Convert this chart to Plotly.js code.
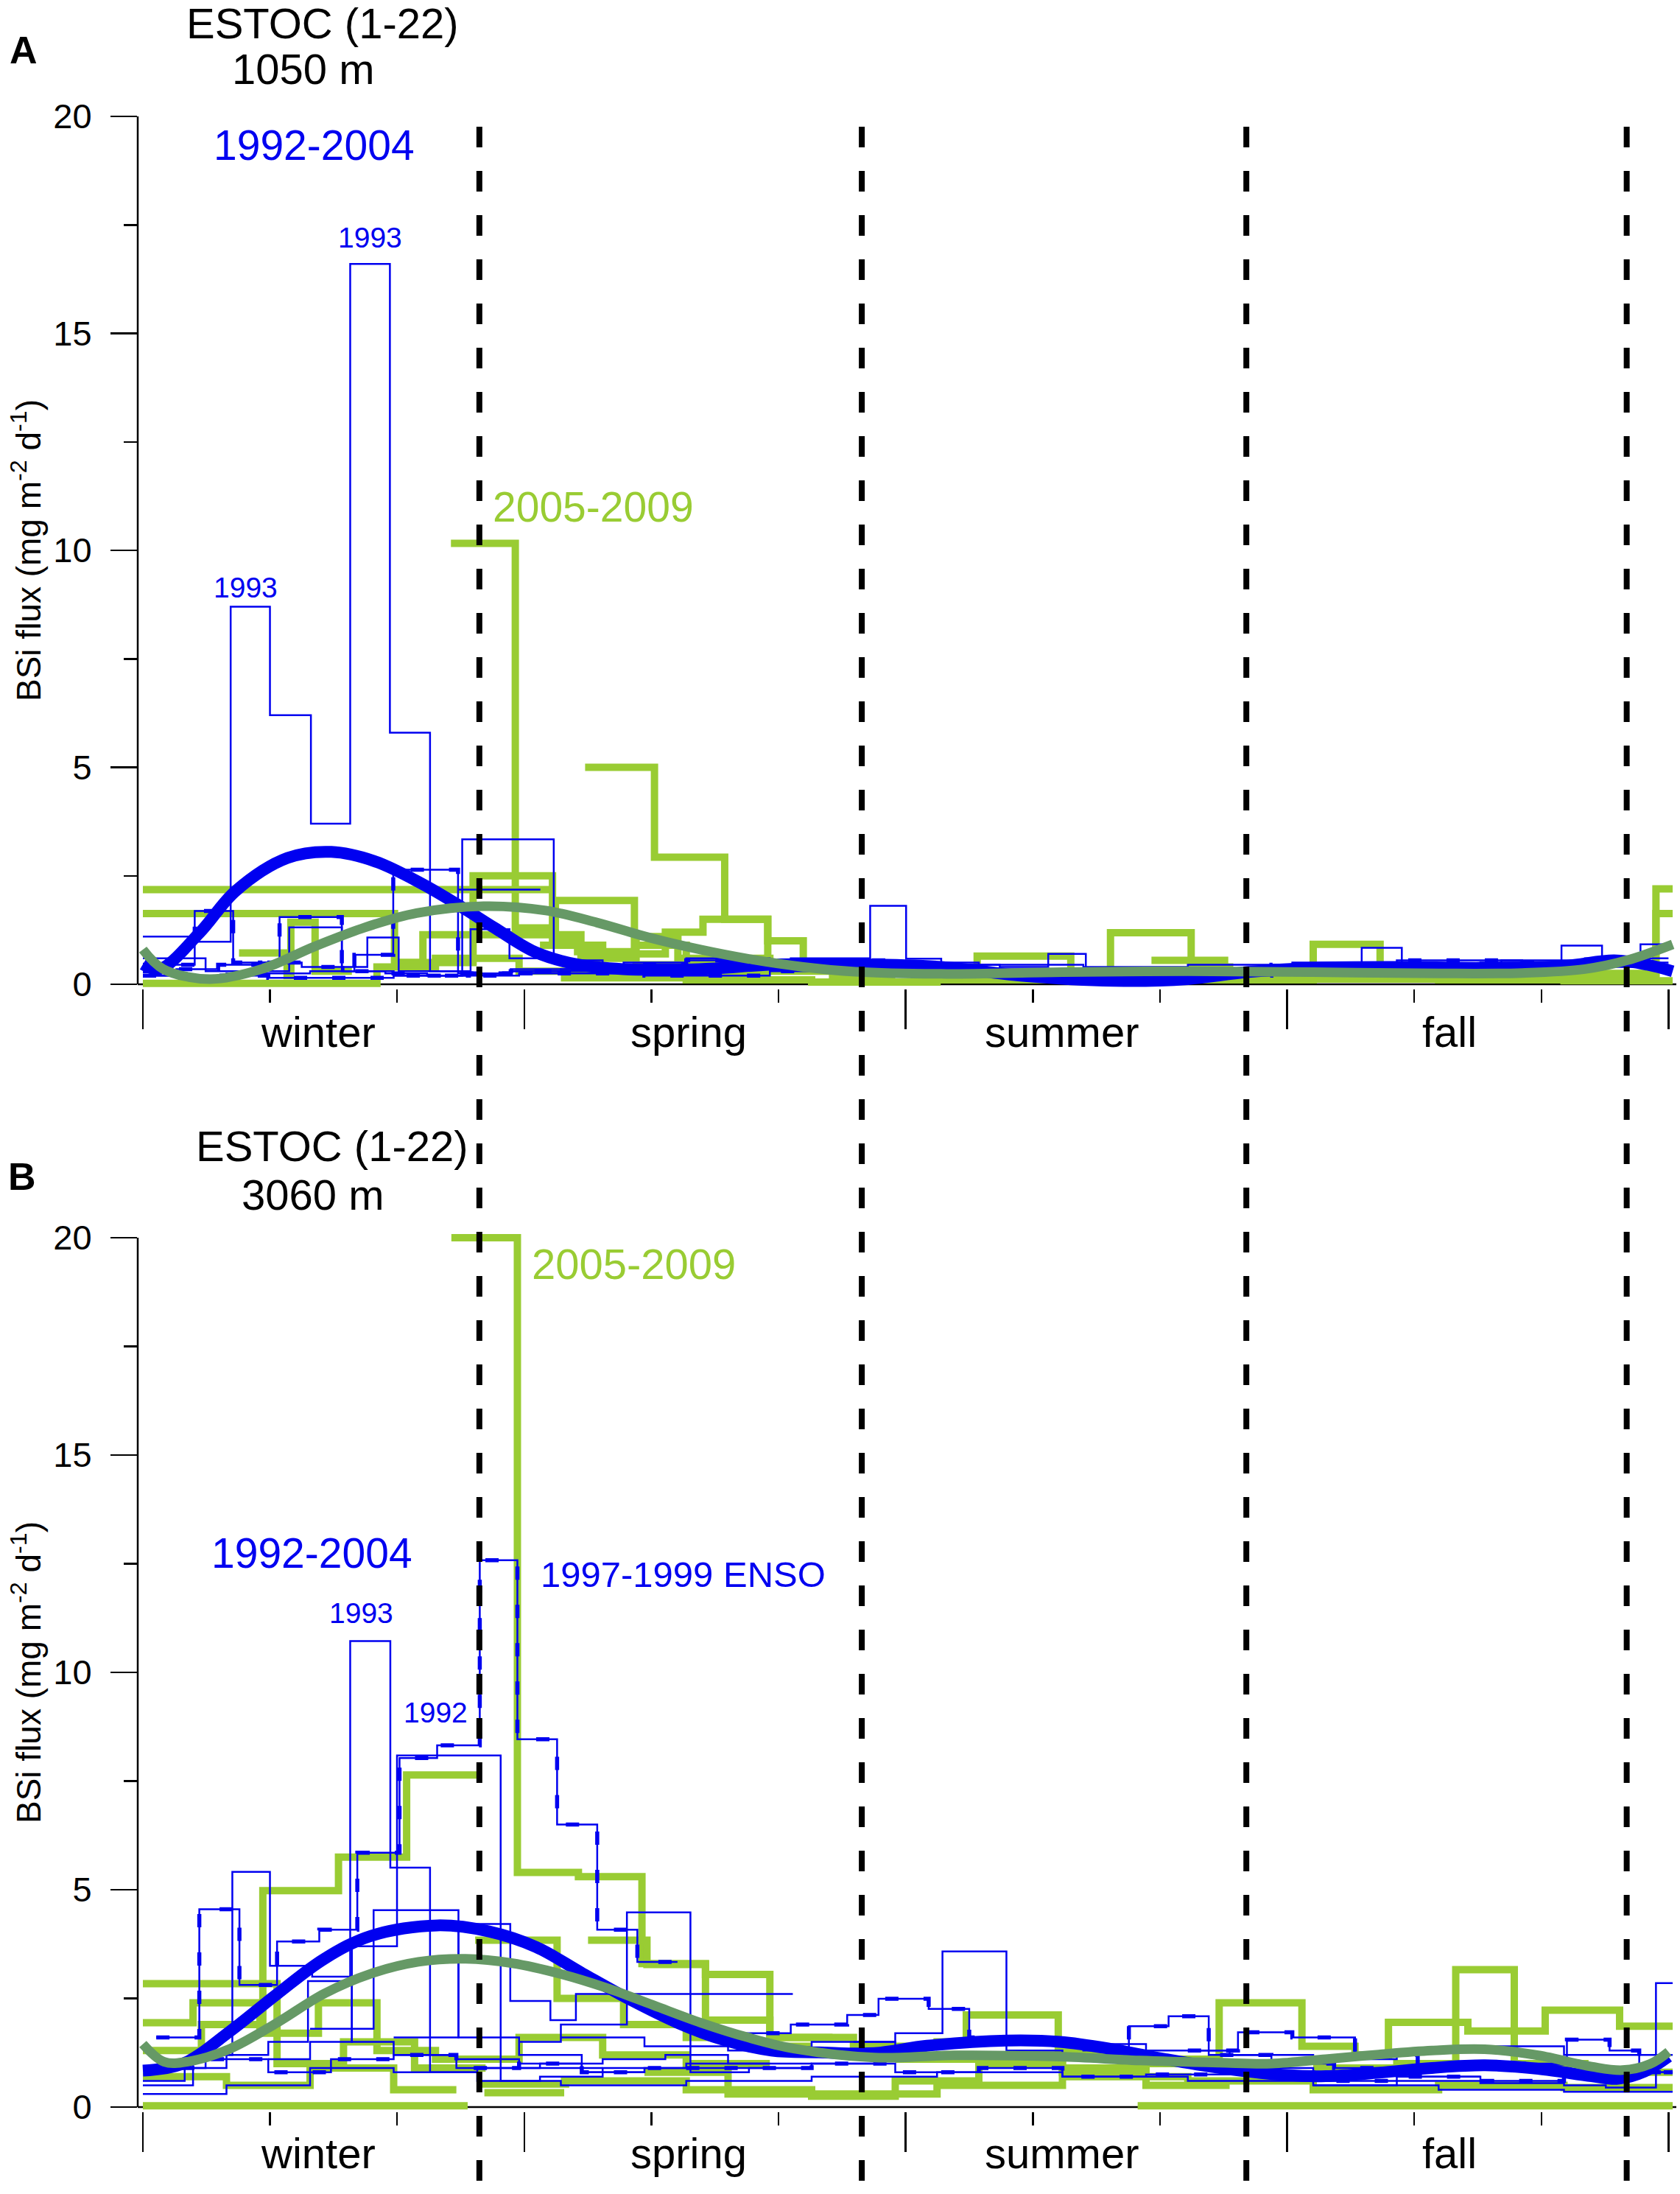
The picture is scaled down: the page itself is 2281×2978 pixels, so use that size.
<!DOCTYPE html>
<html>
<head>
<meta charset="utf-8">
<script src="https://cdn.plot.ly/plotly-3.0.1.min.js"></script>
<style>
body { margin: 0; background: #fff; }
#chart { width: 2281px; height: 2978px; }
</style>
</head>
<body>
<div id="chart"></div>
<script>
// BSi flux at ESTOC, day of year vs mg m-2 d-1
// step series: *_days are cup boundaries (one more than *_flux)

// ---- panel A, 1050 m, 1992-2004 (blue) ----
var A_b1_days = [0, 12.2, 21, 30.4, 40.2, 49.6, 59.1, 68.7, 78, 88, 100, 115, 130, 150, 170, 190];
var A_b1_flux = [1.1, 0.98, 8.7, 6.2, 3.7, 16.6, 5.8, 0.3, 0.25, 0.35, 0.3, 0.4, 0.45, 0.4, 0.35];
var A_b2_days = [0, 12.4, 21.6, 32.7, 47.6, 50.6, 59.9, 75.4, 88, 100, 115, 130, 145, 160, 175, 190];
var A_b2_flux = [0.45, 1.69, 0.5, 1.55, 0.3, 0.68, 2.64, 0.25, 0.3, 0.35, 0.45, 0.55, 0.5, 0.45, 0.5];
var A_b3_days = [0, 20, 40, 60, 76.4, 98.3, 110, 125, 140, 160, 180, 200, 220, 240, 260];
var A_b3_flux = [0.2, 0.25, 0.3, 0.2, 3.34, 0.55, 0.4, 0.3, 0.35, 0.5, 0.45, 0.35, 0.3, 0.35];
var A_b4_days = [75.4, 95.1];
var A_b4_flux = [2.18];
var A_b5_days = [0, 15, 35, 47.6, 53.7, 61.2, 78.4, 87.7, 100, 115, 130, 150, 175, 200, 225, 250, 275, 300, 325, 345, 365];
var A_b5_flux = [0.6, 0.3, 1.31, 0.4, 1.08, 0.3, 1.27, 0.6, 0.45, 0.5, 0.6, 0.55, 0.5, 0.45, 0.4, 0.45, 0.5, 0.45, 0.55, 0.6];
var A_b6_days = [140, 155, 174, 182.6, 191, 205, 216.6, 225.6, 240, 260];
var A_b6_flux = [0.55, 0.6, 1.81, 0.59, 0.45, 0.4, 0.7, 0.3, 0.25];
var A_b7_days = [240, 260, 280, 291.6, 301.2, 315, 330, 345, 365];
var A_b7_flux = [0.3, 0.35, 0.4, 0.84, 0.45, 0.4, 0.5, 0.45];
var A_b8_days = [260, 280, 300, 320, 339.4, 349.1, 358.3, 365.6];
var A_b8_flux = [0.35, 0.4, 0.45, 0.5, 0.89, 0.6, 0.92];
var A_b9_days = [0, 30, 60, 90, 120, 150, 180, 210, 240, 270, 300, 330, 365];
var A_b9_flux = [0.2, 0.15, 0.2, 0.25, 0.2, 0.3, 0.2, 0.15, 0.2, 0.45, 0.55, 0.5];
var A_b10_days = [0, 8, 18, 28, 38, 48, 58, 68, 78, 88, 100, 120, 140, 160, 180];
var A_b10_flux = [0.3, 0.35, 0.45, 0.5, 0.4, 0.3, 0.25, 0.2, 0.25, 0.3, 0.35, 0.4, 0.5, 0.55];
var A_b11_days = [180, 200, 220, 240, 260, 275, 290, 305, 320, 335, 350, 365];
var A_b11_flux = [0.3, 0.25, 0.2, 0.25, 0.3, 0.35, 0.4, 0.38, 0.42, 0.45, 0.4];

// ---- panel A, 2005-2009 (green) ----
var A_g1_days = [73.7, 89.1, 98.7, 117.6, 130, 150];
var A_g1_flux = [10.16, 1.3, 1.93, 0.9, 0.5];
var A_g2_days = [105.8, 122.4, 139.2, 149.5, 158, 170, 190];
var A_g2_flux = [5.0, 2.93, 1.5, 1.0, 0.5, 0.3];
var A_g3_days = [0, 97.3];
var A_g3_flux = [2.18];
var A_g4_days = [0, 60.2, 67, 104.8, 118, 135, 150];
var A_g4_flux = [1.63, 0.5, 1.14, 0.6, 0.45, 0.3];
var A_g5_days = [60, 79, 98, 104, 118, 128, 150, 165];
var A_g5_flux = [0.5, 2.5, 1.0, 0.75, 1.1, 0.6, 0.3];
var A_g6_days = [0, 56, 70, 90, 110];
var A_g6_flux = [0.02, 0.4, 0.6, 0.3];
var A_g7_days = [190, 199.6, 222, 231.5, 250.8, 260, 280, 296, 310, 330];
var A_g7_flux = [0.25, 0.65, 0.3, 1.19, 0.4, 0.3, 0.92, 0.35, 0.3];
var A_g8_days = [241.3, 258.8, 275, 300, 330, 350, 362, 366];
var A_g8_flux = [0.55, 0.2, 0.15, 0.2, 0.15, 0.2, 2.2];
var A_g9_days = [280, 300, 320, 340, 362, 366];
var A_g9_flux = [0.25, 0.3, 0.2, 0.25, 1.63];
var A_g10_days = [100, 130, 160, 190, 220, 250, 280, 310, 340, 366];
var A_g10_flux = [0.15, 0.1, 0.05, 0.1, 0.15, 0.1, 0.12, 0.1, 0.08];
var A_g11_days = [23, 34.5, 35.4, 41.2, 50];
var A_g11_flux = [0.72, 0.2, 1.43, 0.3];
var A_g12_days = [95, 110, 125, 134, 149.5, 165, 180];
var A_g12_flux = [0.9, 0.7, 1.2, 1.5, 0.45, 0.2];

// ---- panel A fits ----
var A_fitBlue_days = [0, 4, 13.6, 22.2, 34.6, 45.1, 55.6, 66.7, 76.6, 84, 93.9, 103.8, 114.9, 133, 152, 170, 191, 210, 232, 250, 264, 280, 300, 320, 340, 352, 360, 366];
var A_fitBlue_flux = [0.46, 0.35, 1.19, 2.15, 2.91, 3.05, 2.83, 2.32, 1.76, 1.31, 0.74, 0.46, 0.35, 0.35, 0.46, 0.46, 0.4, 0.2, 0.08, 0.12, 0.28, 0.38, 0.4, 0.38, 0.42, 0.55, 0.45, 0.3];
var A_fitGreen_days = [0, 4.9, 16, 28.4, 40.8, 53.1, 65.5, 81.5, 96.4, 108.7, 121, 133.4, 145.8, 158, 170.5, 191, 220, 250, 280, 310, 330, 345, 355, 366];
var A_fitGreen_flux = [0.8, 0.35, 0.12, 0.35, 0.86, 1.31, 1.64, 1.80, 1.70, 1.42, 1.08, 0.8, 0.57, 0.4, 0.29, 0.24, 0.28, 0.3, 0.28, 0.25, 0.26, 0.35, 0.55, 0.92];

// ---- panel B, 3060 m, 1992-2004 (blue) ----
var B_b1_days = [3.2, 13.5, 23.1, 32.1, 42.2, 51.3, 61.4, 70.4, 80.6, 89.6, 99.1, 108.7, 118.3, 127.9];
var B_b1_flux = [1.6, 4.55, 2.81, 3.81, 4.08, 5.85, 8.03, 8.32, 12.58, 8.46, 6.5, 4.08, 3.34];
var B_b2_days = [0, 10, 20, 30, 39.5, 49.6, 59.2, 68.7, 80, 95, 110, 125, 140, 160];
var B_b2_flux = [0.6, 0.9, 1.2, 1.5, 2.9, 10.72, 5.51, 0.8, 0.9, 1.0, 1.1, 1.2, 1.0];
var B_b3_days = [30, 40, 50, 60.8, 85.6, 95, 110, 130, 150];
var B_b3_flux = [1.1, 1.5, 3.7, 8.09, 0.6, 0.7, 0.9, 1.0];
var B_b4_days = [0, 12, 21.4, 30.4, 40.5, 50, 60, 75, 90, 110];
var B_b4_flux = [0.5, 1.2, 5.41, 3.25, 3.0, 1.5, 1.2, 1.1, 0.9];
var B_b5_days = [40, 55.2, 75.5, 90, 105, 120];
var B_b5_flux = [1.8, 4.53, 1.6, 1.2, 0.8];
var B_b6_days = [90, 100, 115.8, 131, 145, 160, 175];
var B_b6_flux = [1.5, 1.9, 4.48, 0.8, 0.9, 1.0];
var B_b7_days = [60, 75.5, 87.9, 97.5, 103.6, 155.5];
var B_b7_flux = [1.6, 4.21, 2.44, 2.0, 2.6];
var B_b8_days = [140, 155, 168.5, 176, 188, 197.7, 210, 225, 235.9, 245.4, 255, 270, 285, 300];
var B_b8_flux = [1.7, 1.9, 2.12, 2.49, 2.26, 1.6, 1.5, 1.3, 1.86, 2.09, 1.2, 1.0, 0.9];
var B_b9_days = [170, 180, 191.3, 206.6, 220, 240, 260, 280, 300, 320];
var B_b9_flux = [1.5, 1.7, 3.58, 1.3, 1.2, 1.0, 0.9, 0.8, 0.7];
var B_b10_days = [250, 262, 275, 290, 305, 320, 340.7, 350.9, 358, 366];
var B_b10_flux = [1.3, 1.72, 1.6, 1.2, 0.9, 1.0, 1.55, 1.3, 0.8];
var B_b11_days = [280, 300, 320, 340, 350, 362, 366];
var B_b11_flux = [0.5, 0.6, 0.55, 0.5, 0.45, 2.85];
var B_b12_days = [0, 20, 40, 60, 80, 100, 130, 160, 190, 220, 250, 280, 310, 340, 366];
var B_b12_flux = [0.3, 0.5, 0.9, 0.8, 0.6, 0.5, 0.6, 0.7, 0.8, 0.7, 0.6, 0.5, 0.4, 0.35];
var B_b13_days = [0, 15, 30, 45, 60, 75, 90, 105, 120, 140, 160, 180, 200, 220, 240, 260, 280, 300, 320, 340, 366];
var B_b13_flux = [0.9, 1.1, 0.8, 1.1, 1.2, 0.9, 1.0, 0.8, 0.9, 0.9, 1.0, 0.8, 0.9, 0.7, 0.75, 0.8, 0.6, 0.7, 0.6, 0.8];
var B_b14_days = [100, 120, 140, 160, 180, 200, 220, 240, 260, 280, 300, 320, 340, 366];
var B_b14_flux = [1.6, 1.4, 1.3, 1.5, 1.4, 1.6, 1.45, 1.3, 1.2, 1.1, 1.3, 1.4, 1.2];

// ---- panel B, 2005-2009 (green) ----
var B_g1_days = [73.8, 89.6, 104.2, 119.4, 134.6, 150, 165];
var B_g1_flux = [20, 5.4, 5.3, 3.3, 3.05, 1.6];
var B_g2_days = [0, 14, 28.7, 46.8, 63.1, 80.6];
var B_g2_flux = [1.3, 1.9, 4.98, 5.75, 7.64];
var B_g3_days = [0, 32.1, 48, 65, 82];
var B_g3_flux = [2.84, 1.0, 1.5, 0.9];
var B_g4_days = [0, 12, 28, 42, 56, 70, 90, 110, 130, 150];
var B_g4_flux = [1.94, 2.4, 1.7, 2.4, 1.3, 1.1, 1.6, 1.2, 1.0];
var B_g5_days = [0, 77.7];
var B_g5_flux = [0.03];
var B_g6_days = [81.7, 100.8];
var B_g6_flux = [0.33];
var B_g7_days = [80, 102];
var B_g7_flux = [0.53];
var B_g8_days = [79.5, 99.1, 115, 130, 145, 160];
var B_g8_flux = [3.84, 2.5, 1.9, 1.6, 1.4];
var B_g9_days = [106.5, 120.6, 134.6, 150, 170, 190, 197, 219, 235, 250];
var B_g9_flux = [3.84, 3.28, 2.0, 1.6, 1.4, 1.5, 2.12, 1.3, 1.0];
var B_g10_days = [180, 200, 220, 240, 257.5, 277.3, 290, 298, 317, 335.5, 353.3, 366];
var B_g10_flux = [1.1, 1.2, 0.9, 1.1, 2.4, 1.4, 1.2, 1.95, 1.75, 2.23, 1.86];
var B_g11_days = [280, 300, 314.1, 328.1, 345, 366];
var B_g11_flux = [0.9, 1.0, 3.16, 1.0, 0.8];
var B_g12_days = [238, 366];
var B_g12_flux = [0.03];
var B_g13_days = [100, 130, 160, 190, 220, 250, 280, 310, 340, 366];
var B_g13_flux = [0.6, 0.4, 0.3, 0.5, 0.7, 0.6, 0.4, 0.5, 0.45];
var B_g14_days = [0, 20, 40, 60, 75];
var B_g14_flux = [0.7, 0.5, 0.9, 0.4];
var B_g15_days = [120, 140, 160, 180, 200, 220, 240, 260];
var B_g15_flux = [0.8, 0.3, 0.25, 0.6, 1.0, 0.8, 0.5];

// ---- panel B fits ----
var B_fitBlue_days = [0, 9.6, 20.8, 32.1, 43.4, 54.6, 70.4, 82.8, 94.1, 105.3, 116.6, 127.9, 139.1, 150.4, 161.7, 175, 187.6, 206.6, 219.4, 232.1, 244.8, 257.5, 270.2, 283, 295.7, 308.4, 321.1, 333.8, 346.6, 352.9, 359.3, 365];
var B_fitBlue_flux = [0.84, 1.0, 1.74, 2.6, 3.41, 3.94, 4.18, 4.04, 3.68, 3.07, 2.47, 1.94, 1.54, 1.30, 1.26, 1.24, 1.41, 1.53, 1.50, 1.33, 1.10, 0.90, 0.76, 0.71, 0.79, 0.90, 0.96, 0.88, 0.71, 0.65, 0.82, 1.16];
var B_fitGreen_days = [0, 5.1, 11, 20.8, 32.1, 43.4, 54.6, 65.9, 77.2, 88.4, 99.7, 111, 122.2, 133.5, 144.8, 156, 175, 194, 219.4, 238.5, 257.5, 270, 283, 295.7, 308.4, 321, 333.8, 346.6, 354, 360.6, 365];
var B_fitGreen_flux = [1.45, 1.04, 1.05, 1.34, 1.94, 2.61, 3.07, 3.34, 3.41, 3.31, 3.07, 2.74, 2.34, 1.94, 1.6, 1.34, 1.14, 1.19, 1.16, 1.07, 1.02, 1.0, 1.1, 1.21, 1.3, 1.33, 1.19, 0.93, 0.85, 0.99, 1.27];

// season boundaries (day of year) and labels
var seasonBounds = [80.5, 172, 264, 355];
var seasonNames = ['winter', 'spring', 'summer', 'fall'];
var seasonLabelDay = [41.9, 130.6, 219.8, 312.6];


var W = 2281, H = 2978;
var L = 187, R = 2276;          // plot area left / right in px
var day0px = 194, pxPerDay = 5.675;
var xRange = [(L - day0px) / pxPerDay, (R - day0px) / pxPerDay];
var yRange = [-0.1, 20.3];
var FONT = 'Liberation Sans, Arial, sans-serif';
var BLUE = '#0000f0', GREEN = '#99cc33', FITGREEN = '#669966';

function px(X) { return (X - L) / (R - L); }
function py(Y) { return 1 - Y / H; }
function yDomain(zeroPx, twentyPx) {
	var unit = (zeroPx - twentyPx) / 20;
	return [py(zeroPx - yRange[0] * unit), py(zeroPx - yRange[1] * unit)];
}

var traces = [];

function step(days, flux, xa, ya, color, width) {
	var y = flux.slice();
	y.push(flux[flux.length - 1]);
	traces.push({
		x: days, y: y, xaxis: xa, yaxis: ya,
		type: 'scatter', mode: 'lines',
		line: {shape: 'hv', color: color, width: width},
		hoverinfo: 'skip', showlegend: false
	});
}

function dashedStep(days, flux, xa, ya) {
	step(days, flux, xa, ya, BLUE, 2.5);
	var y = flux.slice();
	y.push(flux[flux.length - 1]);
	traces.push({
		x: days, y: y, xaxis: xa, yaxis: ya,
		type: 'scatter', mode: 'lines',
		line: {shape: 'hv', color: BLUE, width: 5.5, dash: '18px,34px'},
		hoverinfo: 'skip', showlegend: false
	});
}

function fit(days, flux, xa, ya, color, width) {
	traces.push({
		x: days, y: flux, xaxis: xa, yaxis: ya,
		type: 'scatter', mode: 'lines',
		line: {shape: 'spline', smoothing: 1, color: color, width: width},
		hoverinfo: 'skip', showlegend: false
	});
}

// panel A
[[A_g1_days, A_g1_flux], [A_g2_days, A_g2_flux], [A_g3_days, A_g3_flux], [A_g4_days, A_g4_flux],
 [A_g5_days, A_g5_flux], [A_g6_days, A_g6_flux], [A_g7_days, A_g7_flux], [A_g8_days, A_g8_flux],
 [A_g9_days, A_g9_flux], [A_g10_days, A_g10_flux], [A_g11_days, A_g11_flux], [A_g12_days, A_g12_flux]
].forEach(function(s) { step(s[0], s[1], 'x', 'y', GREEN, 10); });

[[A_b1_days, A_b1_flux], [A_b3_days, A_b3_flux], [A_b4_days, A_b4_flux], [A_b5_days, A_b5_flux],
 [A_b6_days, A_b6_flux], [A_b7_days, A_b7_flux], [A_b8_days, A_b8_flux], [A_b11_days, A_b11_flux]
].forEach(function(s) { step(s[0], s[1], 'x', 'y', BLUE, 2.5); });
dashedStep(A_b2_days, A_b2_flux, 'x', 'y');
dashedStep(A_b9_days, A_b9_flux, 'x', 'y');
dashedStep(A_b10_days, A_b10_flux, 'x', 'y');

fit(A_fitBlue_days, A_fitBlue_flux, 'x', 'y', BLUE, 16);
fit(A_fitGreen_days, A_fitGreen_flux, 'x', 'y', FITGREEN, 13);

// panel B
[[B_g1_days, B_g1_flux], [B_g2_days, B_g2_flux], [B_g3_days, B_g3_flux], [B_g4_days, B_g4_flux],
 [B_g5_days, B_g5_flux], [B_g6_days, B_g6_flux], [B_g7_days, B_g7_flux], [B_g8_days, B_g8_flux],
 [B_g9_days, B_g9_flux], [B_g10_days, B_g10_flux], [B_g11_days, B_g11_flux], [B_g12_days, B_g12_flux],
 [B_g13_days, B_g13_flux], [B_g14_days, B_g14_flux], [B_g15_days, B_g15_flux]
].forEach(function(s) { step(s[0], s[1], 'x2', 'y2', GREEN, 10); });

[[B_b2_days, B_b2_flux], [B_b3_days, B_b3_flux], [B_b4_days, B_b4_flux], [B_b5_days, B_b5_flux],
 [B_b6_days, B_b6_flux], [B_b7_days, B_b7_flux], [B_b9_days, B_b9_flux], [B_b11_days, B_b11_flux],
 [B_b12_days, B_b12_flux], [B_b14_days, B_b14_flux]
].forEach(function(s) { step(s[0], s[1], 'x2', 'y2', BLUE, 2.5); });
dashedStep(B_b1_days, B_b1_flux, 'x2', 'y2');
dashedStep(B_b8_days, B_b8_flux, 'x2', 'y2');
dashedStep(B_b10_days, B_b10_flux, 'x2', 'y2');
dashedStep(B_b13_days, B_b13_flux, 'x2', 'y2');

fit(B_fitBlue_days, B_fitBlue_flux, 'x2', 'y2', BLUE, 16);
fit(B_fitGreen_days, B_fitGreen_flux, 'x2', 'y2', FITGREEN, 13);


// axes
var monthTicks = [], quarterTicks = [];
for (var m = 0; m <= 12; m++) {
	if (m % 3 === 0) quarterTicks.push(m * 365 / 12);
	else monthTicks.push(m * 365 / 12);
}

function xAxis(anchor) {
	return {
		domain: [0, 1], range: xRange, anchor: anchor,
		showline: false, zeroline: false, showgrid: false,
		ticks: 'outside', tickmode: 'array', tickvals: quarterTicks,
		ticklen: 54, tickwidth: 2.5, tickcolor: '#000', showticklabels: false,
		minor: {tickmode: 'array', tickvals: monthTicks, ticks: 'outside', ticklen: 18, tickwidth: 2.5, tickcolor: '#000'}
	};
}
function yAxis(anchor, domain) {
	return {
		domain: domain, range: yRange, anchor: anchor,
		showline: false, zeroline: false, showgrid: false,
		ticks: 'outside', tickmode: 'linear', tick0: 0, dtick: 5,
		ticklen: 36, tickwidth: 2.5, tickcolor: '#000',
		ticklabelstandoff: 16,
		tickfont: {family: FONT, size: 47, color: '#000'},
		minor: {tick0: 0, dtick: 2.5, ticks: 'outside', ticklen: 18, tickwidth: 2.5, tickcolor: '#000'}
	};
}

var shapes = [];
[['x', 'y'], ['x2', 'y2']].forEach(function(p) {
	shapes.push({type: 'line', xref: p[0] + ' domain', yref: p[1], x0: 0, x1: 0, y0: 0, y1: 20,
		line: {color: '#000', width: 2.5}, layer: 'below'});
	shapes.push({type: 'line', xref: p[0] + ' domain', yref: p[1], x0: 0, x1: 1, y0: 0, y1: 0,
		line: {color: '#000', width: 2.5}, layer: 'below'});
});
seasonBounds.forEach(function(d) {
	shapes.push({type: 'line', xref: 'x', yref: 'paper', x0: d, x1: d, y0: py(172), y1: 0,
		line: {color: '#000', width: 8, dash: '28px,32px'}, layer: 'above'});
});

var annotations = [];
function txt(text, x, y, size, color, xref, yref, extra) {
	var a = {text: text, x: x, y: y, xref: xref, yref: yref, showarrow: false,
		xanchor: 'center', yanchor: 'middle', font: {family: FONT, size: size, color: color}};
	for (var k in extra) a[k] = extra[k];
	annotations.push(a);
}

// panel headings
txt('<b>A</b>', px(32), py(68), 52, '#000', 'paper', 'paper');
txt('ESTOC (1-22)', px(438), py(31), 58, '#000', 'paper', 'paper');
txt('1050 m', px(411), py(93), 58, '#000', 'paper', 'paper');
txt('<b>B</b>', px(30), py(1597), 52, '#000', 'paper', 'paper');
txt('ESTOC (1-22)', px(451), py(1555), 58, '#000', 'paper', 'paper');
txt('3060 m', px(424), py(1621), 58, '#000', 'paper', 'paper');

// y titles
var yTitle = 'BSi flux (mg m<sup>-2</sup> d<sup>-1</sup>)';
txt(yTitle, px(36), py(747), 46, '#000', 'paper', 'paper', {textangle: -90});
txt(yTitle, px(36), py(2270), 46, '#000', 'paper', 'paper', {textangle: -90});

// season labels
seasonNames.forEach(function(s, i) {
	txt(s, seasonLabelDay[i], py(1400), 58, '#000', 'x', 'paper');
	txt(s, seasonLabelDay[i], py(2922), 58, '#000', 'x2', 'paper');
});

// series labels
txt('1992-2004', 40.9, 19.34, 57, BLUE, 'x', 'y');
txt('1993', 54.3, 17.2, 39, BLUE, 'x', 'y');
txt('1993', 24.6, 9.15, 39, BLUE, 'x', 'y');
txt('2005-2009', 107.7, 11.0, 57, GREEN, 'x', 'y');
txt('2005-2009', 117.5, 19.39, 58, GREEN, 'x2', 'y2');
txt('1992-2004', 40.5, 12.75, 57, BLUE, 'x2', 'y2');
txt('1993', 52.3, 11.36, 39, BLUE, 'x2', 'y2');
txt('1997-1999 ENSO', 129.3, 12.25, 49, BLUE, 'x2', 'y2');
txt('1992', 70.1, 9.08, 39, BLUE, 'x2', 'y2');

var layout = {
	width: W, height: H,
	margin: {l: L, r: W - R, t: 0, b: 0},
	paper_bgcolor: '#fff', plot_bgcolor: 'rgba(0,0,0,0)',
	showlegend: false,
	font: {family: FONT, color: '#000'},
	xaxis: xAxis('y'),
	yaxis: yAxis('x', yDomain(1336, 158)),
	xaxis2: xAxis('y2'),
	yaxis2: yAxis('x2', yDomain(2860, 1680)),
	shapes: shapes,
	annotations: annotations
};

Plotly.newPlot('chart', traces, layout, {displayModeBar: false, staticPlot: true});
</script>
</body>
</html>
